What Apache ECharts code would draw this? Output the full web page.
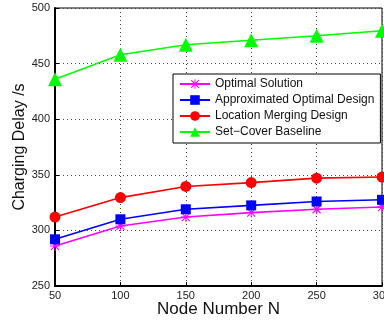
<!DOCTYPE html>
<html>
<head>
<meta charset="utf-8">
<script src="https://cdn.jsdelivr.net/npm/echarts@6/dist/echarts.min.js"></script>
<style>
  html, body { margin: 0; padding: 0; background: #fff; }
  #chart { width: 384px; height: 322px; }
</style>
</head>
<body>
<div id="chart"></div>
<script>
/* data */
var nodeNumbers = [50, 100, 150, 200, 250, 300];
var optimalSolution = [286, 304, 312, 316, 319, 321];
var approxOptimal = [292, 310, 319, 322.5, 326, 327.5];
var locationMerging = [312, 329.5, 339.5, 343, 347, 348];
var setCover = [436, 458, 467, 471, 475, 479.5];

var seriesNames = [
  'Optimal Solution',
  'Approximated Optimal Design',
  'Location Merging Design',
  'Set\u2212Cover Baseline'
];

// asterisk marker (MATLAB '*')
var asterisk = 'path://M0,4.5H10V5.5H0Z M4.5,0H5.5V10H4.5Z ' +
  'M0.6,1.4L1.4,0.6L9.4,8.6L8.6,9.4Z M8.6,0.6L9.4,1.4L1.4,9.4L0.6,8.6Z';

var pairs = function (ys) {
  return nodeNumbers.map(function (x, i) { return [x, ys[i]]; });
};

var makeSeries = function (name, ys, color, symbol, size) {
  return {
    name: name,
    type: 'line',
    data: pairs(ys),
    symbol: symbol,
    symbolSize: size,
    showAllSymbol: true,
    animation: false,
    lineStyle: { color: color, width: 1.6 },
    itemStyle: { color: color }
  };
};

var chart = echarts.init(document.getElementById('chart'));

chart.setOption({
  animation: false,
  textStyle: { fontFamily: 'Liberation Sans, Arial, sans-serif' },
  grid: {
    left: 55,
    right: 2,
    top: 8,
    bottom: 36,
    outerBoundsMode: 'none',
    containLabel: false,
    show: true,
    borderColor: '#000',
    borderWidth: 1
  },
  legend: {
    orient: 'vertical',
    left: 173,
    top: 74,
    padding: [4, 6, 5, 6],
    itemGap: 4,
    itemWidth: 30,
    itemHeight: 12,
    backgroundColor: '#fff',
    borderColor: '#000',
    borderWidth: 1,
    textStyle: { fontSize: 12, color: '#111', fontFamily: 'Liberation Sans, Arial, sans-serif' },
    data: seriesNames
  },
  xAxis: {
    type: 'value',
    min: 50,
    max: 300,
    interval: 50,
    name: 'Node Number N',
    nameLocation: 'middle',
    nameGap: 15,
    nameMoveOverlap: false,
    nameTextStyle: { fontSize: 17, color: '#111' },
    axisLine: { lineStyle: { color: '#000', width: 2 } },
    axisTick: { inside: true, length: 4, lineStyle: { color: '#000' } },
    axisLabel: { fontSize: 11, color: '#222', margin: 4 },
    splitLine: { show: true, lineStyle: { type: [1, 3], color: '#444', width: 1 } }
  },
  yAxis: {
    type: 'value',
    min: 250,
    max: 500,
    interval: 50,
    name: 'Charging Delay /s',
    nameLocation: 'middle',
    nameGap: 27,
    nameMoveOverlap: false,
    nameTextStyle: { fontSize: 16, color: '#111' },
    axisLine: { show: true, lineStyle: { color: '#000', width: 2 } },
    axisTick: { show: true, inside: true, length: 4, lineStyle: { color: '#000' } },
    axisLabel: { fontSize: 11, color: '#222', margin: 5 },
    splitLine: { show: true, lineStyle: { type: [1, 3], color: '#444', width: 1 } }
  },
  series: [
    makeSeries(seriesNames[0], optimalSolution, '#ff00ff', asterisk, 10),
    makeSeries(seriesNames[1], approxOptimal, '#0000ff', 'rect', 10),
    makeSeries(seriesNames[2], locationMerging, '#ff0000', 'circle', 11),
    makeSeries(seriesNames[3], setCover, '#00ff00', 'triangle', 14)
  ]
});
</script>
</body>
</html>
